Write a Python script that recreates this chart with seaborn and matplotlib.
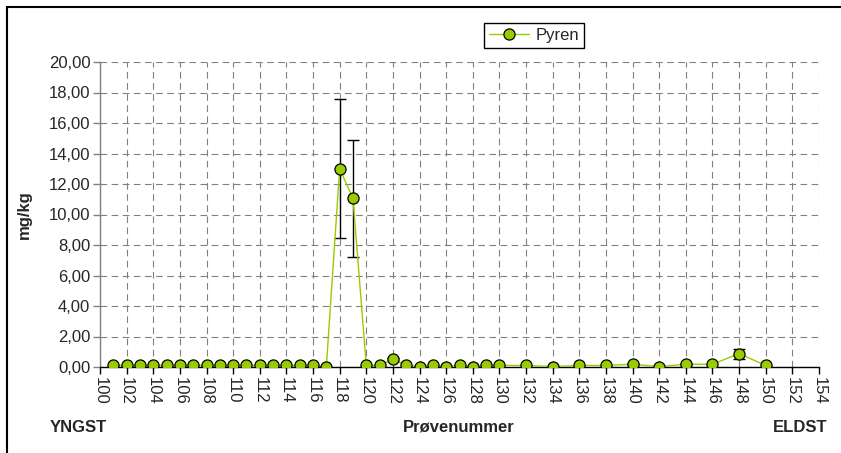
import numpy as np
import pandas as pd
import matplotlib
matplotlib.use('Agg')
import matplotlib.pyplot as plt
from matplotlib.patches import Rectangle
from matplotlib.ticker import FuncFormatter
import seaborn as sns

# sample numbers (x) and Pyren concentration in mg/kg
sample_no = list(range(101, 131)) + list(range(132, 151, 2))
pyren = [0.10, 0.10, 0.10, 0.10, 0.10, 0.10, 0.10, 0.10, 0.10, 0.10,
         0.10, 0.10, 0.10, 0.10, 0.10, 0.10, 0.03, 13.00, 11.05, 0.10,
         0.10, 0.50, 0.10, 0.03, 0.10, 0.03, 0.10, 0.03, 0.10, 0.10,
         0.10, 0.03, 0.10, 0.10, 0.18, 0.03, 0.18, 0.18, 0.88, 0.10]
pyren_err = [0, 0, 0, 0, 0, 0, 0, 0, 0, 0,
             0, 0, 0, 0, 0, 0, 0, 4.55, 3.85, 0,
             0, 0.10, 0, 0, 0, 0, 0, 0, 0, 0,
             0, 0, 0, 0, 0.05, 0, 0.05, 0, 0.33, 0]

df = pd.DataFrame({'Prøvenummer': sample_no, 'Pyren': pyren, 'err': pyren_err})

sns.set_theme(style='white')
plt.rcParams['font.family'] = ['Liberation Sans', 'DejaVu Sans']
fs = 12

fig = plt.figure(figsize=(8.41, 4.53), dpi=100)
ax = fig.add_axes([100 / 841, 86 / 453, 719 / 841, 305 / 453])

# error bars only where there is an error
e = df[df['err'] > 0]
ax.errorbar(e['Prøvenummer'], e['Pyren'], yerr=e['err'], fmt='none',
            ecolor='black', elinewidth=1, capsize=4.5, capthick=1, zorder=2)

sns.lineplot(data=df, x='Prøvenummer', y='Pyren', ax=ax, color='#99CC00',
             linewidth=1, marker='o', markersize=8, markerfacecolor='#99CC00',
             markeredgecolor='black', markeredgewidth=0.9, label='Pyren',
             errorbar=None, zorder=3)
if ax.get_legend() is not None:
    ax.get_legend().remove()

ax.set_xlim(100, 154)
ax.set_ylim(0, 20)
ax.set_xticks(np.arange(100, 155, 2))
ax.set_yticks(np.arange(0, 21, 2))
ax.yaxis.set_major_formatter(FuncFormatter(lambda v, p: f'{v:.2f}'.replace('.', ',')))
ax.tick_params(axis='x', direction='out', length=5, width=1, color='black',
               labelsize=fs, labelrotation=-90, pad=2, bottom=True)
ax.tick_params(axis='y', direction='out', length=5, width=1, color='#808080',
               labelsize=fs, pad=2, left=True)

ax.grid(True, color='#808080', linestyle=(0, (6, 4)), linewidth=0.8)
ax.set_axisbelow(True)
for s in ['top', 'right']:
    ax.spines[s].set_visible(False)
ax.spines['left'].set_color('#808080')
ax.spines['bottom'].set_color('black')
ax.spines['left'].set_linewidth(1)
ax.spines['bottom'].set_linewidth(1)

ax.set_ylabel('mg/kg', fontsize=fs, fontweight='bold')
ax.yaxis.set_label_coords(-0.0946, 0.5)
ax.set_xlabel('')
fig.text(459 / 841, 1 - 427 / 453, 'Prøvenummer', fontsize=fs, fontweight='bold',
         ha='center', va='center')
fig.text(78 / 841, 1 - 427 / 453, 'YNGST', fontsize=fs, fontweight='bold',
         ha='center', va='center')
fig.text(800 / 841, 1 - 427 / 453, 'ELDST', fontsize=fs, fontweight='bold',
         ha='center', va='center')

handles, labels = ax.get_legend_handles_labels()
leg = fig.legend(handles, labels, loc='center', bbox_to_anchor=(534 / 841, 1 - 35.5 / 453),
                 fontsize=fs, frameon=True, fancybox=False, framealpha=1,
                 edgecolor='black', handlelength=2.4, handletextpad=0.4,
                 borderpad=0.3, borderaxespad=0)
leg.get_frame().set_linewidth(1)

# outer chart border (right and bottom edges lie outside the picture)
fig.patches.append(Rectangle((7 / 841, -0.1), 1.2, 1.1 - 7 / 453, transform=fig.transFigure,
                             fill=False, edgecolor='black', linewidth=1.5))

fig.savefig('out.png', dpi=100)
